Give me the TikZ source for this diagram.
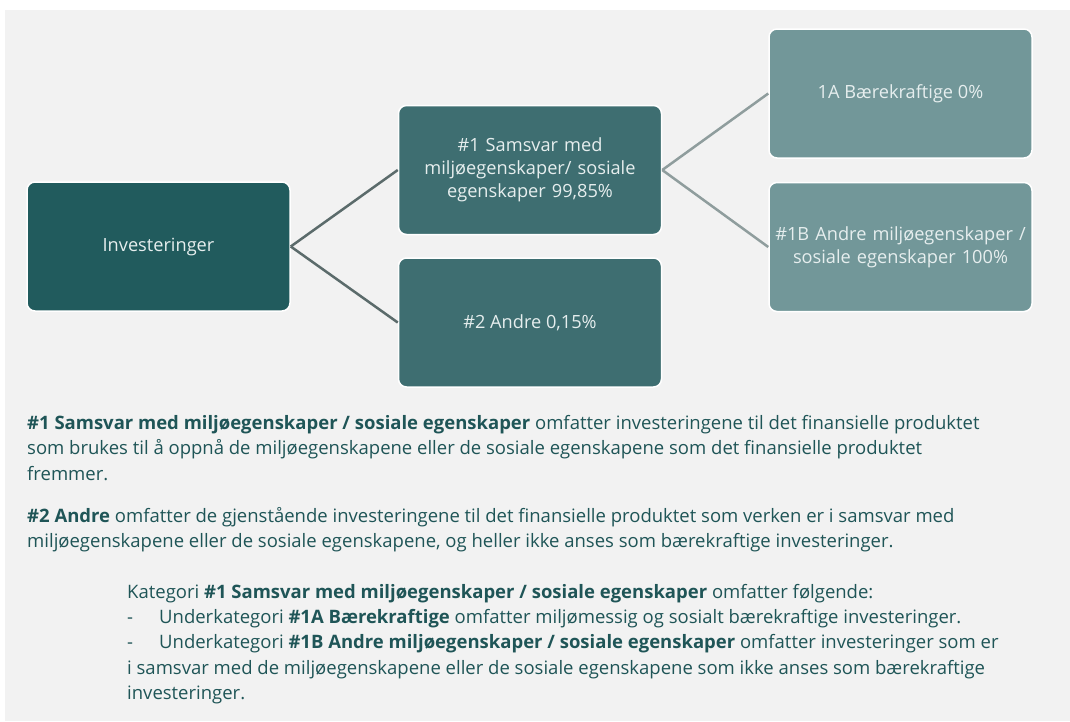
\documentclass[tikz,border=0pt]{standalone}
\usepackage{fontspec}
\setmainfont{Open Sans}
\definecolor{bgc}{HTML}{F2F2F2}
\definecolor{lvla}{HTML}{215B5D}
\definecolor{lvlb}{HTML}{3E6E71}
\definecolor{lvlc}{HTML}{729799}
\definecolor{lineA}{HTML}{5B6B6B}
\definecolor{lineB}{HTML}{8F9D9D}
\definecolor{bodyc}{HTML}{1F5557}
\definecolor{boxtxt}{HTML}{E6EEEE}
\tikzset{
  box/.style={rectangle, rounded corners=8pt, draw=white, line width=1.5pt,
    minimum width=263pt, minimum height=129pt, text=boxtxt, align=center,
    font=\fontsize{18.2}{23}\selectfont, inner sep=2pt},
  conA/.style={draw=lineA, line width=2.5pt},
  conB/.style={draw=lineB, line width=2.5pt},
  body/.style={anchor=base west, text=bodyc, inner sep=0pt, font=\fontsize{18.5}{25}\selectfont}
}
\begin{document}
\begin{tikzpicture}[x=1pt,y=-1pt]
\useasboundingbox (0,0) rectangle (1070,721);
\fill[white] (0,0) rectangle (1070,721);
\fill[bgc] (5,10) rectangle (1070,721);
\node[box, fill=lvla] (inv) at (158.5,246.5) {Investeringer};
\node[box, fill=lvlb, text width=250pt] (s1) at (530,170) {\#1 Samsvar med\\miljøegenskaper/ sosiale\\egenskaper 99,85\%};
\node[box, fill=lvlb] (a2) at (530,322.5) {\#2 Andre 0,15\%};
\node[box, fill=lvlc] (b1a) at (900.5,93.5) {1A Bærekraftige 0\%};
\node[box, fill=lvlc, text width=259pt] (b1b) at (900.5,247) {\#1B Andre miljøegenskaper /\\sosiale egenskaper 100\%};
\draw[conA] (inv.east) -- (s1.west);
\draw[conA] (inv.east) -- (a2.west);
\draw[conB] (s1.east) -- (b1a.west);
\draw[conB] (s1.east) -- (b1b.west);
\node[body] (t1) at (27,429) {\textbf{\#1 Samsvar med miljøegenskaper / sosiale egenskaper} omfatter investeringene til det finansielle produktet};
\node[body] (t2) at (27,454.5) {som brukes til å oppnå de miljøegenskapene eller de sosiale egenskapene som det finansielle produktet};
\node[body] (t3) at (27,480) {fremmer.};
\node[body] (t4) at (27,522) {\textbf{\#2 Andre} omfatter de gjenstående investeringene til det finansielle produktet som verken er i samsvar med};
\node[body] (t5) at (27,547.5) {miljøegenskapene eller de sosiale egenskapene, og heller ikke anses som bærekraftige investeringer.};
\node[body] (t6) at (127,598) {Kategori \textbf{\#1 Samsvar med miljøegenskaper / sosiale egenskaper} omfatter følgende:};
\node[body] (d1) at (127,623) {-};
\node[body] (t7) at (159,623) {Underkategori \textbf{\#1A Bærekraftige} omfatter miljømessig og sosialt bærekraftige investeringer.};
\node[body] (d2) at (127,648.5) {-};
\node[body] (t8) at (159,648.5) {Underkategori \textbf{\#1B Andre miljøegenskaper / sosiale egenskaper} omfatter investeringer som er};
\node[body] (t9) at (127,674) {i samsvar med de miljøegenskapene eller de sosiale egenskapene som ikke anses som bærekraftige};
\node[body] (t10) at (127,699.5) {investeringer.};
\end{tikzpicture}
\end{document}
